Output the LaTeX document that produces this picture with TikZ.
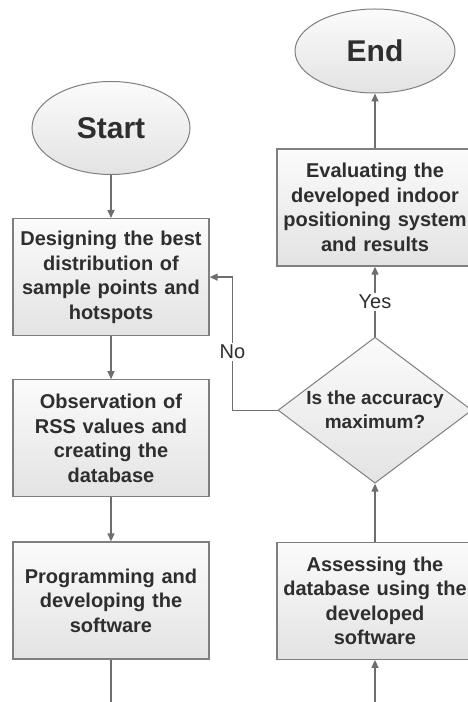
\documentclass[tikz,border=0pt]{standalone}
\usepackage{fontspec}
\setmainfont{Liberation Sans}
\usetikzlibrary{arrows.meta,positioning,shapes.geometric}
\definecolor{FLine}{HTML}{6E6E6E}
\definecolor{FBorder}{HTML}{7F7F7F}
\definecolor{FText}{HTML}{2E2E2E}
\definecolor{FTop}{HTML}{FBFBFB}
\definecolor{FBot}{HTML}{E3E3E3}

\begin{document}
\begin{tikzpicture}[
  x=1pt,y=1pt,
  node distance=43pt,
  every node/.style={font=\fontsize{20}{24.5}\selectfont\bfseries,text=FText},
  term/.style={ellipse,draw=FBorder,line width=1pt,top color=FTop,bottom color=FBot,
    font=\fontsize{30}{34}\selectfont\bfseries},
  proc/.style={rectangle,draw=FBorder,line width=1.2pt,top color=FTop,bottom color=FBot,
    text width=192pt,minimum width=196pt,minimum height=117pt,inner xsep=2pt,align=center},
  dec/.style={diamond,draw=FBorder,line width=1pt,top color=FTop,bottom color=FBot,
    aspect=1.33,minimum width=194pt,minimum height=146pt,inner sep=0pt,align=center,
    font=\fontsize{19}{24}\selectfont\bfseries},
  a/.style={-{Triangle[length=8pt,width=7pt]},line width=1.3pt,color=FLine},
  l/.style={line width=1.3pt,color=FLine},
  lbl/.style={fill=white,inner sep=2pt,font=\fontsize{20}{22}\selectfont,text=FText}
]
  \useasboundingbox (0,0) rectangle (467,702);
  % left column
  \node[term,minimum width=158pt,minimum height=93pt] (start) at (111,574) {Start};
  \node[proc,below=of start] (design) {Designing the best\\distribution of\\sample points and\\hotspots};
  \node[proc,below=of design] (observe) {Observation of\\RSS values and\\creating the\\database};
  \node[proc,below=44pt of observe] (program) {Programming and\\developing the\\software};
  % right column
  \node[term,minimum width=160pt,minimum height=84pt] (end) at (375,651) {End};
  \node[proc,below=55pt of end] (eval) {Evaluating the\\developed indoor\\positioning system\\and results};
  \node[dec,below=70pt of eval] (check) {Is the accuracy\\maximum?};
  \node[proc,below=58pt of check] (assess) {Assessing the\\database using the\\developed\\software};
  \coordinate (leftout) at (111,-2);
  \coordinate (rightin) at (375,-2);
  \foreach \x/\y in {start/design,design/observe,observe/program,assess/check,eval/end}
    {\draw[a] (\x) -- (\y);}
  \draw[l] (program) -- (leftout);
  \draw[a] (rightin) -- (assess);
  \draw[a] (check) -- node[lbl] {Yes} (eval);
  \draw[a] (check.west) -- ++(-45,0) |- node[lbl,pos=0.22] {No} (design.east);
\end{tikzpicture}
\end{document}
